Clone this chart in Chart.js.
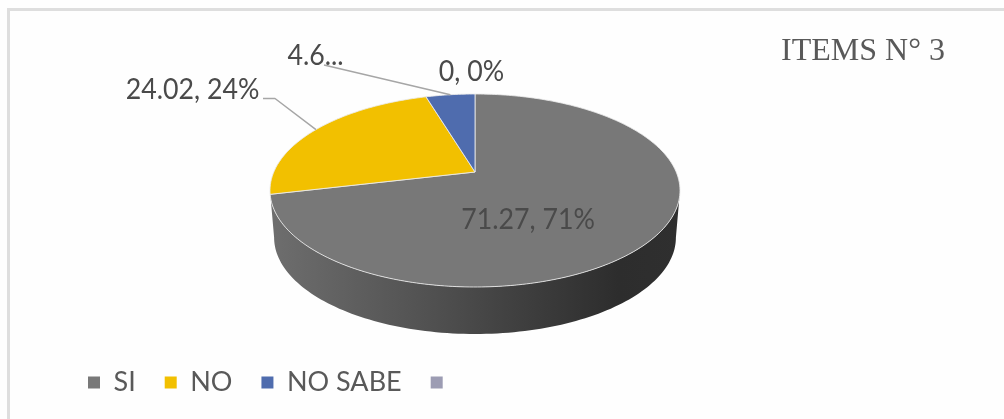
<!DOCTYPE html>
<html>
<head>
<meta charset="utf-8">
<title>ITEMS N° 3</title>
<script src="https://cdn.jsdelivr.net/npm/chart.js@4/dist/chart.umd.min.js"></script>
<style>
    html, body { margin: 0; padding: 0; background: #fefefe; }
    #wrap { position: relative; width: 1004px; height: 419px; overflow: hidden; }
    #frame { position: absolute; left: 7px; top: 8px; right: -5px; bottom: -5px; border: 3px solid #dedede; box-sizing: border-box; }
    #pieChart { position: absolute; left: 0; top: 0; }
</style>
</head>
<body>
<div id="wrap">
    <div id="frame"></div>
    <canvas id="pieChart" width="1004" height="419"></canvas>
</div>
<script>
var categories = ['SI', 'NO', 'NO SABE', ''];
var values = [71.27, 24.02, 4.65, 0];
var valueLabels = ['71.27, 71%', '24.02, 24%', '4.6...', '0, 0%'];
var sliceColors = ['#787878', '#f2c000', '#4f6cae', '#9c9cb3'];

// how each label sits on the page; leader: the line from the label to the rim
var labelSpots = [
    { x: 528, y: 229 },
    { x: 192.5, y: 99, leader: [[263, 98.5], [275, 98.5]] },
    { x: 315.5, y: 65, leader: [[324, 65]] },
    { x: 471.5, y: 81 }
];

// the 3D look: a circle seen in perspective, so the apex is not the middle of the ellipse
var pieCx = 475, pieCy = 172, tilt = -0.1917, scaleX = 201.2, scaleY = 92.95;
var wallDepth = 47, wallShrink = 0.98;

function project(angle) {
    var u = Math.cos(angle), v = Math.sin(angle);
    var w = 1 + tilt * v;
    return { x: pieCx + scaleX * u / w, y: pieCy + scaleY * v / w };
}

function drawWall(ctx) {
    var edge = Math.asin(-tilt);
    var steps = 120, i, a, p;
    var grad = ctx.createLinearGradient(270, 0, 680, 0);
    grad.addColorStop(0, '#6e6e6e');
    grad.addColorStop(0.35, '#545454');
    grad.addColorStop(0.6, '#404040');
    grad.addColorStop(0.85, '#2d2d2d');
    grad.addColorStop(1, '#2f2f2f');
    ctx.beginPath();
    for (i = 0; i <= steps; i++) {
        a = edge + (Math.PI - 2 * edge) * i / steps;
        p = project(a);
        ctx.lineTo(p.x, p.y);
    }
    for (i = steps; i >= 0; i--) {
        a = edge + (Math.PI - 2 * edge) * i / steps;
        p = project(a);
        ctx.lineTo(pieCx + (p.x - pieCx) * wallShrink, p.y + wallDepth);
    }
    ctx.closePath();
    ctx.fillStyle = grad;
    ctx.fill();
}

function drawSlice(ctx, arc, color) {
    var span = arc.endAngle - arc.startAngle;
    var steps = Math.max(2, Math.ceil(span * 60));
    var i, p;
    ctx.beginPath();
    ctx.moveTo(pieCx, pieCy);
    for (i = 0; i <= steps; i++) {
        p = project(arc.startAngle + span * i / steps);
        ctx.lineTo(p.x, p.y);
    }
    ctx.closePath();
    ctx.fillStyle = color;
    ctx.fill();
    ctx.strokeStyle = 'rgba(235,235,235,0.85)';
    ctx.lineWidth = 1;
    ctx.stroke();
}

var tiltedPie = {
    id: 'tiltedPie',
    // the arcs keep the angles the library worked out, only the shape is redrawn
    beforeDatasetsDraw: function(chart) {
        var ctx = chart.ctx;
        var arcs = chart.getDatasetMeta(0).data;
        ctx.save();
        drawWall(ctx);
        arcs.forEach(function(arc, i) {
            if (arc.endAngle - arc.startAngle > 0) { drawSlice(ctx, arc, sliceColors[i]); }
        });
        ctx.lineJoin = 'round';
        arcs.forEach(function(arc, i) {
            var spot = labelSpots[i];
            if (!spot.leader) { return; }
            var rim = project((arc.startAngle + arc.endAngle) / 2);
            ctx.beginPath();
            spot.leader.forEach(function(pt) { ctx.lineTo(pt[0], pt[1]); });
            ctx.lineTo(rim.x, rim.y);
            ctx.strokeStyle = '#a6a6a6';
            ctx.lineWidth = 1.5;
            ctx.stroke();
        });
        ctx.font = '27px Lato';
        ctx.textAlign = 'center';
        ctx.textBaseline = 'alphabetic';
        ctx.fillStyle = '#4a4a4a';
        valueLabels.forEach(function(text, i) {
            // the original type is taller than Lato
            ctx.save();
            ctx.translate(labelSpots[i].x, labelSpots[i].y);
            ctx.scale(0.99, 1.1);
            ctx.fillText(text, 0, 0);
            ctx.restore();
        });
        ctx.restore();
        return false;
    }
};

new Chart(document.getElementById('pieChart'), {
    type: 'pie',
    data: {
        labels: categories,
        datasets: [{ data: values, backgroundColor: sliceColors, borderWidth: 0 }]
    },
    plugins: [tiltedPie],
    options: {
        responsive: false,
        animation: false,
        layout: { padding: { left: 59, right: 59, top: 0, bottom: 13 } },
        plugins: {
            tooltip: { enabled: false },
            title: {
                display: true,
                text: 'ITEMS N° 3',
                align: 'end',
                color: '#595959',
                font: { family: '"Liberation Serif"', size: 32, weight: 'normal' },
                padding: { top: 32, bottom: 0 }
            },
            legend: {
                display: true,
                position: 'bottom',
                align: 'start',
                labels: {
                    boxWidth: 12,
                    boxHeight: 12,
                    padding: 29,
                    color: '#595959',
                    font: { family: 'Lato', size: 27, weight: 'normal' }
                }
            }
        }
    }
});
</script>
</body>
</html>
